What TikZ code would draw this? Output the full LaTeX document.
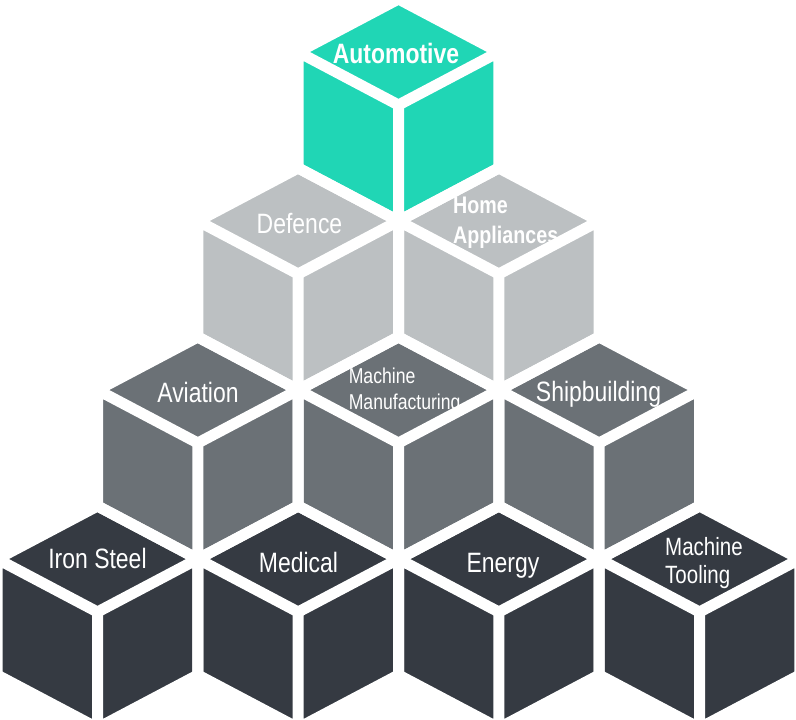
\documentclass[tikz,border=0pt]{standalone}
\usepackage{fontspec}
\usepackage{xcolor}
\usepackage{tikz}
\newfontfamily\cubefont[FakeStretch=0.82]{Liberation Sans}
\definecolor{autogreen}{RGB}{32,214,181}
\definecolor{lightgrey}{RGB}{188,192,194}
\definecolor{midgrey}{RGB}{107,113,118}
\definecolor{darkgrey}{RGB}{53,58,66}

\begin{document}
\begin{tikzpicture}[x=1pt,y=-1pt,
    cubetext/.style={text=white,inner sep=0pt}]
  \useasboundingbox (0,0) rectangle (796,720);
  % faces of the cubes, top vertex and colour
  \foreach \cx/\cy/\col in {398.5/-1/autogreen,
      298.17/168/lightgrey, 498.83/168/lightgrey,
      197.83/337/midgrey, 398.5/337/midgrey, 599.17/337/midgrey,
      97.5/506/darkgrey, 298.17/506/darkgrey, 498.83/506/darkgrey, 699.5/506/darkgrey}{
    \fill[\col] (\cx,\cy) -- ++(100.33,53) -- ++(-100.33,53) -- ++(-100.33,-53) -- cycle
      (\cx-100.33,\cy+53) -- ++(100.33,53) -- ++(0,116) -- ++(-100.33,-53) -- cycle
      (\cx,\cy+106) -- ++(100.33,-53) -- ++(0,116) -- ++(-100.33,53) -- cycle;
  }
  % labels
  \node[cubetext,anchor=base,font=\cubefont\bfseries\fontsize{28}{34}\selectfont]
    (automotive) at (396,63) {Automotive};
  \node[cubetext,anchor=base,font=\cubefont\fontsize{28}{34}\selectfont]
    (defence) at (299.5,233) {Defence};
  \node[cubetext,anchor=north west,align=left,font=\cubefont\bfseries\fontsize{24}{30}\selectfont]
    (homeapp) at (453,197) {Home\\Appliances};
  \node[cubetext,anchor=base,font=\cubefont\fontsize{28}{34}\selectfont]
    (aviation) at (198,402) {Aviation};
  \node[cubetext,anchor=north west,align=left,font=\cubefont\fontsize{21.5}{26}\selectfont]
    (machman) at (348.6,367.6) {Machine\\Manufacturing};
  \node[cubetext,anchor=base,font=\cubefont\fontsize{28}{34}\selectfont]
    (shipbuild) at (598.5,401) {Shipbuilding};
  \node[cubetext,anchor=base,font=\cubefont\fontsize{28}{34}\selectfont]
    (ironsteel) at (97.5,568) {Iron Steel};
  \node[cubetext,anchor=base,font=\cubefont\fontsize{28}{34}\selectfont]
    (medical) at (298.5,572) {Medical};
  \node[cubetext,anchor=base,font=\cubefont\fontsize{28}{34}\selectfont]
    (energy) at (503,572) {Energy};
  \node[cubetext,anchor=north west,align=left,font=\cubefont\fontsize{25}{28}\selectfont]
    (machtool) at (665,537) {Machine\\Tooling};
  % white gaps between the faces
  \foreach \cx/\cy in {398.5/-1, 298.17/168, 498.83/168,
      197.83/337, 398.5/337, 599.17/337,
      97.5/506, 298.17/506, 498.83/506, 699.5/506}{
    \draw[white,line width=11pt,line join=round]
      (\cx,\cy) -- ++(100.33,53) -- ++(-100.33,53) -- ++(-100.33,-53) -- cycle
      (\cx-100.33,\cy+53) -- ++(100.33,53) -- ++(0,116) -- ++(-100.33,-53) -- cycle
      (\cx,\cy+106) -- ++(100.33,-53) -- ++(0,116) -- ++(-100.33,53) -- cycle;
  }
\end{tikzpicture}
\end{document}
